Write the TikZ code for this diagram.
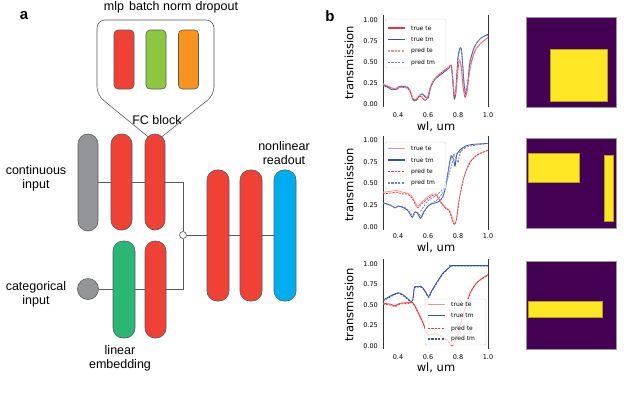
\documentclass[tikz,border=0pt]{standalone}
\usepackage{fontspec}
\setmainfont{Liberation Sans}
\newfontfamily\dvs{DejaVu Sans}
\usetikzlibrary{calc,backgrounds}
\definecolor{cred}{HTML}{EF4136}
\definecolor{cgreen}{HTML}{8DC63F}
\definecolor{corange}{HTML}{F7941D}
\definecolor{cemb}{HTML}{2BB673}
\definecolor{cblue}{HTML}{00AEEF}
\definecolor{cgray}{HTML}{939598}
\definecolor{linegray}{HTML}{58595B}
\definecolor{cvred}{RGB}{228,58,58}
\definecolor{cvlred}{RGB}{242,145,145}
\definecolor{cvblue}{RGB}{50,80,175}
\definecolor{cvlblue}{RGB}{115,130,200}
\definecolor{vpurple}{HTML}{440154}
\definecolor{vyellow}{HTML}{FDE725}
\tikzset{
  capsule/.style={draw=linegray, line width=0.6pt, rounded corners=10pt, minimum width=21pt, inner sep=0pt},
  smallrect/.style={draw=linegray, line width=0.6pt, rounded corners=4pt, minimum width=20pt, minimum height=59pt, inner sep=0pt},
  conn/.style={draw=linegray, line width=0.6pt},
  lab/.style={font=\fontsize{12.5}{14}\selectfont, align=center, inner sep=0pt},
  panel/.style={font=\fontsize{15}{15}\selectfont\bfseries, inner sep=0pt},
  spine/.style={draw=black!80, line width=0.9pt},
  tick/.style={font=\dvs\fontsize{6.5}{7}\selectfont, inner sep=0pt},
  axlab/.style={font=\dvs\fontsize{11.5}{12}\selectfont, inner sep=0pt},
  legbox/.style={draw=black!20, fill=white, fill opacity=0.8, line width=0.4pt, rounded corners=2pt},
  legtxt/.style={font=\dvs\fontsize{6}{6.5}\selectfont, inner sep=0pt, anchor=west},
  cv/.style={line width=0.8pt},
  dsh/.style={line width=0.8pt, dash pattern=on 2pt off 1.2pt},
  lcv/.style={line width=1.2pt},
  ldsh/.style={line width=1.1pt, dash pattern=on 2.2pt off 1.2pt},
  img/.style={draw=black!40, line width=0.4pt, fill=vpurple},
  yel/.style={fill=vyellow, draw=vyellow!70!black, line width=0.3pt}
}
\begin{document}
\begin{tikzpicture}[x=1pt,y=-1pt]
\useasboundingbox (0,0) rectangle (640,408);

% ---------- panel a ----------
\node[panel] (pa) at (24,16) {a};
\node[lab] (tmlp) at (171,7) {mlp\hspace{5pt}batch norm\hspace{4pt}dropout};

\node[smallrect, fill=cred] (mlp) at (124,59.5) {};
\node[smallrect, fill=cgreen] (bn) at (156,59.5) {};
\node[smallrect, fill=corange] (do) at (188.5,59.5) {};

\node[capsule, fill=cgray, minimum height=97pt, minimum width=20pt] (cont) at (88,182.5) {};
\node[capsule, fill=cred, minimum height=96pt] (fc1) at (121.5,182) {};
\node[capsule, fill=cred, minimum height=96pt, minimum width=20pt] (fc2) at (155,182) {};

\node[circle, draw=linegray, line width=0.6pt, fill=cgray, minimum size=21pt, inner sep=0pt] (cat) at (88,289) {};
\node[capsule, fill=cemb, minimum height=97pt, minimum width=22pt] (emb) at (124,289.5) {};
\node[capsule, fill=cred, minimum height=97pt] (fc3) at (155.5,289.5) {};

\node[circle, draw=linegray, line width=0.6pt, fill=white, minimum size=7pt, inner sep=0pt] (j) at (183,235) {};

\node[capsule, fill=cred, minimum height=131pt, minimum width=22pt] (r1) at (218,235.5) {};
\node[capsule, fill=cred, minimum height=131pt, minimum width=22pt] (r2) at (251,235.5) {};
\node[capsule, fill=cblue, minimum height=131pt, minimum width=22pt] (ro) at (285,235.5) {};

\begin{scope}[on background layer]
  \draw[conn] (cont.east) -- (cont.east -| j) -- (j.north);
  \draw[conn] (cat.east) -- (cat.east -| j) -- (j.south);
  \draw[conn] (j.east) -- (j -| ro.west);
\end{scope}

\draw[conn, rounded corners=8pt] ($(fc2.north)+(-7,3)$) -- (97,95) -- (97,20) -- (214,20) -- (214,95) -- ($(fc2.north)+(7,3)$);

\node[lab] (tfc) at (157,120) {FC block};
\node[lab] (tcont) at (36,178.5) {continuous\\input};
\node[lab] (tcat) at (36,294) {categorical\\input};
\node[lab] (temb) at (120,358) {linear\\embedding};
\node[lab] (tro) at (284,153) {nonlinear\\readout};

% ---------- panel b ----------
\node[panel] (pb) at (330,16) {b};

% plot 1
\begin{scope}[shift={(338,104)}, x=150pt, y=84pt]
  \draw[spine] (0.3,-0.036) -- (0.3,1.06);
  \draw[spine] (1.0,-0.036) -- (1.0,1.06);
  \foreach \t in {0.4,0.6,0.8,1.0} \node[tick, anchor=north] at (\t,0) [yshift=-8pt] {\t};
  \foreach \t/\l in {0/0.00,0.25/0.25,0.5/0.50,0.75/0.75,1/1.00} \node[tick, anchor=east] at (0.3,\t) [xshift=-5pt] {\l};
  \draw[cv, cvblue] plot[smooth, tension=0.45] coordinates {(0.30,0.22) (0.33,0.20) (0.36,0.17) (0.39,0.18) (0.41,0.21) (0.46,0.20) (0.48,0.16) (0.50,0.05) (0.52,0.04) (0.54,0.09) (0.56,0.12) (0.58,0.09) (0.60,0.07) (0.62,0.21) (0.65,0.30) (0.70,0.37) (0.74,0.43) (0.755,0.46) (0.765,0.28) (0.775,0.06) (0.785,0.15) (0.80,0.55) (0.815,0.67) (0.825,0.62) (0.84,0.25) (0.85,0.12) (0.865,0.25) (0.88,0.50) (0.91,0.68) (0.95,0.78) (1.0,0.83)};
  \draw[dsh, cvlblue] plot[smooth, tension=0.45] coordinates {(0.30,0.23) (0.33,0.21) (0.36,0.18) (0.39,0.19) (0.41,0.21) (0.46,0.21) (0.48,0.16) (0.50,0.06) (0.52,0.05) (0.54,0.10) (0.56,0.12) (0.58,0.10) (0.60,0.08) (0.62,0.22) (0.65,0.31) (0.70,0.38) (0.74,0.43) (0.755,0.45) (0.765,0.29) (0.775,0.08) (0.785,0.17) (0.80,0.55) (0.815,0.66) (0.825,0.61) (0.84,0.26) (0.85,0.14) (0.865,0.27) (0.88,0.51) (0.91,0.68) (0.95,0.78) (1.0,0.82)};
  \draw[cv, cvred] plot[smooth, tension=0.45] coordinates {(0.30,0.24) (0.33,0.21) (0.36,0.19) (0.39,0.17) (0.41,0.20) (0.46,0.19) (0.48,0.15) (0.50,0.06) (0.52,0.05) (0.54,0.09) (0.56,0.08) (0.58,0.04) (0.60,0.09) (0.62,0.22) (0.65,0.31) (0.70,0.39) (0.74,0.44) (0.755,0.46) (0.765,0.30) (0.775,0.10) (0.785,0.12) (0.80,0.42) (0.81,0.52) (0.82,0.46) (0.835,0.20) (0.847,0.08) (0.86,0.15) (0.88,0.42) (0.91,0.62) (0.95,0.72) (1.0,0.79)};
  \draw[dsh, cvlred] plot[smooth, tension=0.45] coordinates {(0.30,0.24) (0.33,0.22) (0.36,0.19) (0.39,0.18) (0.41,0.20) (0.46,0.19) (0.48,0.15) (0.50,0.07) (0.52,0.06) (0.54,0.10) (0.56,0.09) (0.58,0.05) (0.60,0.10) (0.62,0.23) (0.65,0.31) (0.70,0.39) (0.74,0.44) (0.755,0.45) (0.765,0.31) (0.775,0.12) (0.785,0.14) (0.80,0.44) (0.81,0.52) (0.82,0.45) (0.835,0.22) (0.847,0.10) (0.86,0.17) (0.88,0.43) (0.91,0.62) (0.95,0.72) (1.0,0.79)};
\end{scope}
\draw[legbox] (385,19) rectangle (446,68);
\draw[lcv, cvred] (388,28) -- (405,28);
\draw[lcv, cvblue] (388,39.5) -- (405,39.5);
\draw[ldsh, cvlred] (388,51) -- (405,51);
\draw[ldsh, cvlblue] (388,62.5) -- (405,62.5);
\node[legtxt] (l11) at (411,28) {true te};
\node[legtxt] (l12) at (411,39.5) {true tm};
\node[legtxt] (l13) at (411,51) {pred te};
\node[legtxt] (l14) at (411,62.5) {pred tm};
\node[axlab, rotate=90] (ya1) at (349,63) {transmission};
\node[axlab] (xa1) at (436,126.5) {wl, um};

% plot 2
\begin{scope}[shift={(338,227)}, x=150pt, y=87pt]
  \draw[spine] (0.3,-0.035) -- (0.3,1.05);
  \draw[spine] (1.0,-0.035) -- (1.0,1.05);
  \foreach \t in {0.4,0.6,0.8,1.0} \node[tick, anchor=north] at (\t,0) [yshift=-6pt] {\t};
  \foreach \t/\l in {0/0.00,0.25/0.25,0.5/0.50,0.75/0.75,1/1.00} \node[tick, anchor=east] at (0.3,\t) [xshift=-5pt] {\l};
  \draw[cv, cvblue] plot[smooth, tension=0.45] coordinates {(0.30,0.28) (0.35,0.25) (0.38,0.22) (0.40,0.24) (0.44,0.22) (0.47,0.18) (0.495,0.11) (0.51,0.17) (0.53,0.16) (0.55,0.10) (0.57,0.17) (0.60,0.24) (0.63,0.27) (0.67,0.29) (0.70,0.35) (0.72,0.48) (0.74,0.70) (0.755,0.82) (0.77,0.78) (0.78,0.70) (0.79,0.82) (0.81,0.88) (0.85,0.93) (0.90,0.95) (1.0,0.96)};
  \draw[dsh, cvlblue] plot[smooth, tension=0.45] coordinates {(0.30,0.27) (0.35,0.25) (0.38,0.22) (0.40,0.24) (0.44,0.23) (0.47,0.19) (0.50,0.13) (0.52,0.18) (0.54,0.15) (0.56,0.12) (0.58,0.19) (0.62,0.27) (0.66,0.31) (0.70,0.40) (0.73,0.55) (0.76,0.72) (0.775,0.82) (0.79,0.78) (0.80,0.74) (0.81,0.83) (0.83,0.90) (0.88,0.93) (1.0,0.96)};
  \draw[dsh, cvlblue] plot[smooth, tension=0.45] coordinates {(0.55,0.18) (0.60,0.30) (0.65,0.36) (0.70,0.44) (0.73,0.60) (0.75,0.76) (0.77,0.83) (0.80,0.85) (0.85,0.91)};
  \draw[cv, cvlred] plot[smooth, tension=0.45] coordinates {(0.30,0.40) (0.35,0.41) (0.39,0.42) (0.43,0.40) (0.46,0.39) (0.49,0.36) (0.51,0.30) (0.53,0.24) (0.56,0.29) (0.61,0.36) (0.65,0.38) (0.69,0.28) (0.72,0.22) (0.74,0.20) (0.755,0.14) (0.77,0.05) (0.78,0.04) (0.79,0.10) (0.81,0.34) (0.84,0.58) (0.88,0.75) (0.93,0.83) (1.0,0.885)};
  \draw[dsh, cvred] plot[smooth, tension=0.45] coordinates {(0.30,0.38) (0.35,0.39) (0.39,0.40) (0.43,0.38) (0.46,0.38) (0.49,0.34) (0.51,0.28) (0.53,0.22) (0.56,0.27) (0.61,0.34) (0.65,0.37) (0.69,0.27) (0.72,0.21) (0.74,0.19) (0.755,0.12) (0.77,0.04) (0.78,0.03) (0.79,0.09) (0.81,0.33) (0.84,0.57) (0.88,0.74) (0.93,0.83) (1.0,0.88)};
\end{scope}
\draw[legbox] (385,142) rectangle (446,189);
\draw[lcv, cvlred] (388,148.5) -- (405,148.5);
\draw[lcv, cvblue] (388,160) -- (405,160);
\draw[ldsh, cvred] (388,171.5) -- (405,171.5);
\draw[ldsh, cvlblue] (388,183) -- (405,183);
\node[legtxt] (l21) at (411,148.5) {true te};
\node[legtxt] (l22) at (411,160) {true tm};
\node[legtxt] (l23) at (411,171.5) {pred te};
\node[legtxt] (l24) at (411,183) {pred tm};
\node[axlab, rotate=90] (ya2) at (349,185) {transmission};
\node[axlab] (xa2) at (436,248) {wl, um};

% plot 3
\begin{scope}[shift={(338,346)}, x=150pt, y=82pt]
  \draw[spine] (0.3,-0.04) -- (0.3,1.06);
  \draw[spine] (1.0,-0.04) -- (1.0,1.06);
  \foreach \t in {0.4,0.6,0.8,1.0} \node[tick, anchor=north] at (\t,0) [yshift=-8pt] {\t};
  \foreach \t/\l in {0/0.00,0.25/0.25,0.5/0.50,0.75/0.75,1/1.00} \node[tick, anchor=east] at (0.3,\t) [xshift=-5pt] {\l};
  \draw[cv, cvblue] plot[smooth, tension=0.45] coordinates {(0.30,0.56) (0.36,0.62) (0.40,0.65) (0.43,0.63) (0.47,0.57) (0.49,0.54) (0.50,0.58) (0.51,0.72) (0.53,0.72) (0.55,0.73) (0.57,0.70) (0.59,0.64) (0.605,0.60) (0.62,0.66) (0.66,0.78) (0.70,0.89) (0.75,0.97) (0.76,0.98) (1.0,0.98)};
  \draw[dsh, cvblue] plot[smooth, tension=0.45] coordinates {(0.30,0.55) (0.36,0.61) (0.40,0.64) (0.43,0.62) (0.47,0.56) (0.49,0.53) (0.50,0.57) (0.51,0.71) (0.53,0.72) (0.55,0.72) (0.57,0.69) (0.59,0.63) (0.605,0.59) (0.62,0.65) (0.66,0.77) (0.70,0.88) (0.75,0.97) (0.76,0.975) (1.0,0.975)};
  \draw[cv, cvred] plot[smooth, tension=0.45] coordinates {(0.30,0.52) (0.35,0.51) (0.38,0.49) (0.41,0.52) (0.47,0.53) (0.49,0.54) (0.51,0.50) (0.54,0.39) (0.57,0.27) (0.59,0.17) (0.61,0.13) (0.64,0.16) (0.68,0.13) (0.73,0.07) (0.76,0.00) (0.79,0.09) (0.83,0.35) (0.88,0.64) (0.93,0.78) (1.0,0.87)};
  \draw[dsh, cvred] plot[smooth, tension=0.45] coordinates {(0.30,0.51) (0.35,0.50) (0.38,0.48) (0.41,0.51) (0.47,0.52) (0.49,0.53) (0.51,0.49) (0.54,0.38) (0.57,0.26) (0.59,0.16) (0.61,0.12) (0.64,0.15) (0.68,0.12) (0.73,0.06) (0.76,0.01) (0.79,0.10) (0.83,0.36) (0.88,0.64) (0.93,0.78) (1.0,0.86)};
\end{scope}
\draw[legbox] (425,299) rectangle (486,345);
\draw[line width=1.6pt, cvlred] (428,304.5) -- (445,304.5);
\draw[lcv, cvblue] (428,315.5) -- (445,315.5);
\draw[ldsh, cvred] (428,328.5) -- (445,328.5);
\draw[ldsh, cvblue] (428,339) -- (445,339);
\node[legtxt] (l31) at (451,304.5) {true te};
\node[legtxt] (l32) at (451,315.5) {true tm};
\node[legtxt] (l33) at (451,328.5) {pred te};
\node[legtxt] (l34) at (451,339) {pred tm};
\node[axlab, rotate=90] (ya3) at (349,305) {transmission};
\node[axlab] (xa3) at (436,368) {wl, um};

% images
\draw[img] (526,17) rectangle (616,107);
\draw[yel] (550,49) rectangle (607,101);
\draw[img] (526,138) rectangle (616,228);
\draw[yel] (528,153) rectangle (579,182);
\draw[yel] (604,155) rectangle (613,221);
\draw[img] (526,261) rectangle (616,349);
\draw[yel] (528,301) rectangle (602,317);
\end{tikzpicture}
\end{document}
